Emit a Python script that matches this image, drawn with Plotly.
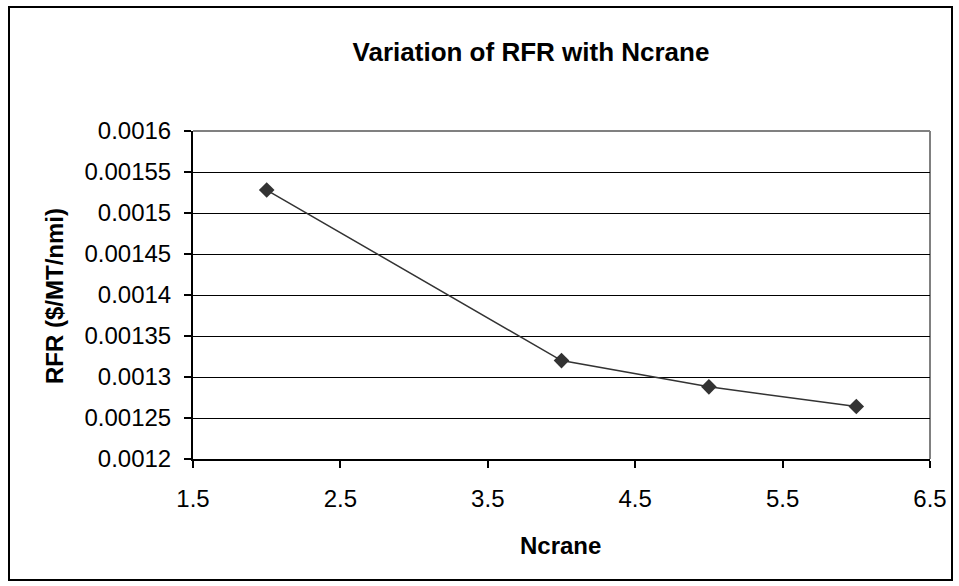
import plotly.graph_objects as go

ncrane = [2, 4, 5, 6]
rfr = [0.001528, 0.001320, 0.001288, 0.001264]
y_ticks = [0.0012, 0.00125, 0.0013, 0.00135, 0.0014, 0.00145, 0.0015, 0.00155, 0.0016]
y_labels = ["0.0012", "0.00125", "0.0013", "0.00135", "0.0014", "0.00145", "0.0015", "0.00155", "0.0016"]
x_ticks = [1.5, 2.5, 3.5, 4.5, 5.5, 6.5]
x_labels = ["1.5", "2.5", "3.5", "4.5", "5.5", "6.5"]

W, H = 959, 586
L, R, T, B = 193, 29, 131, 127
pw, ph = W - L - R, H - T - B

def px(x):
    return (x - L) / pw

def py(y):
    return (H - B - y) / ph

font = "Liberation Sans, Arial, sans-serif"

fig = go.Figure()
fig.add_trace(go.Scatter(
    x=ncrane, y=rfr, mode="lines+markers",
    line=dict(color="#333333", width=1.5),
    marker=dict(symbol="diamond", size=12, color="#333333"),
    showlegend=False,
))

fig.update_layout(
    width=W, height=H,
    margin=dict(l=L, r=R, t=T, b=B),
    paper_bgcolor="white", plot_bgcolor="white",
    font=dict(family=font, color="black"),
    title=dict(text="<b>Variation of RFR with Ncrane</b>", x=531 / W, xanchor="center",
               y=1 - 52 / H, yanchor="middle", font=dict(size=26, family=font, color="black")),
    xaxis=dict(range=[1.5, 6.5], tickvals=x_ticks, ticktext=x_labels,
               showgrid=False, zeroline=False, showline=True, linecolor="black", linewidth=2,
               ticks="outside", ticklen=7, tickwidth=2, tickcolor="black",
               ticklabelstandoff=10,
               tickfont=dict(size=24, family=font, color="black")),
    yaxis=dict(range=[0.0012, 0.0016], tickvals=y_ticks, ticktext=y_labels,
               showgrid=True, gridcolor="black", gridwidth=1, zeroline=False,
               showline=True, linecolor="black", linewidth=2,
               ticks="outside", ticklen=7, tickwidth=2, tickcolor="black",
               ticklabelstandoff=8,
               tickfont=dict(size=24, family=font, color="black")),
    annotations=[
        dict(text="<b>Ncrane</b>", xref="paper", yref="paper", x=px(560), y=py(545),
             xanchor="center", yanchor="middle", showarrow=False,
             font=dict(size=24, family=font, color="black")),
        dict(text="<b>RFR ($/MT/nmi)</b>", xref="paper", yref="paper", x=px(54), y=py(296),
             xanchor="center", yanchor="middle", showarrow=False, textangle=-90,
             font=dict(size=24, family=font, color="black")),
    ],
    shapes=[
        dict(type="line", xref="paper", yref="paper", x0=0, x1=1, y0=1, y1=1,
             line=dict(color="#808080", width=2), layer="below"),
        dict(type="line", xref="paper", yref="paper", x0=1, x1=1, y0=0, y1=1,
             line=dict(color="#808080", width=2), layer="below"),
        dict(type="rect", xref="paper", yref="paper",
             x0=px(9), x1=px(952), y0=py(580), y1=py(7),
             line=dict(color="black", width=2), fillcolor="rgba(0,0,0,0)"),
    ],
)

fig.write_html("out.html")
